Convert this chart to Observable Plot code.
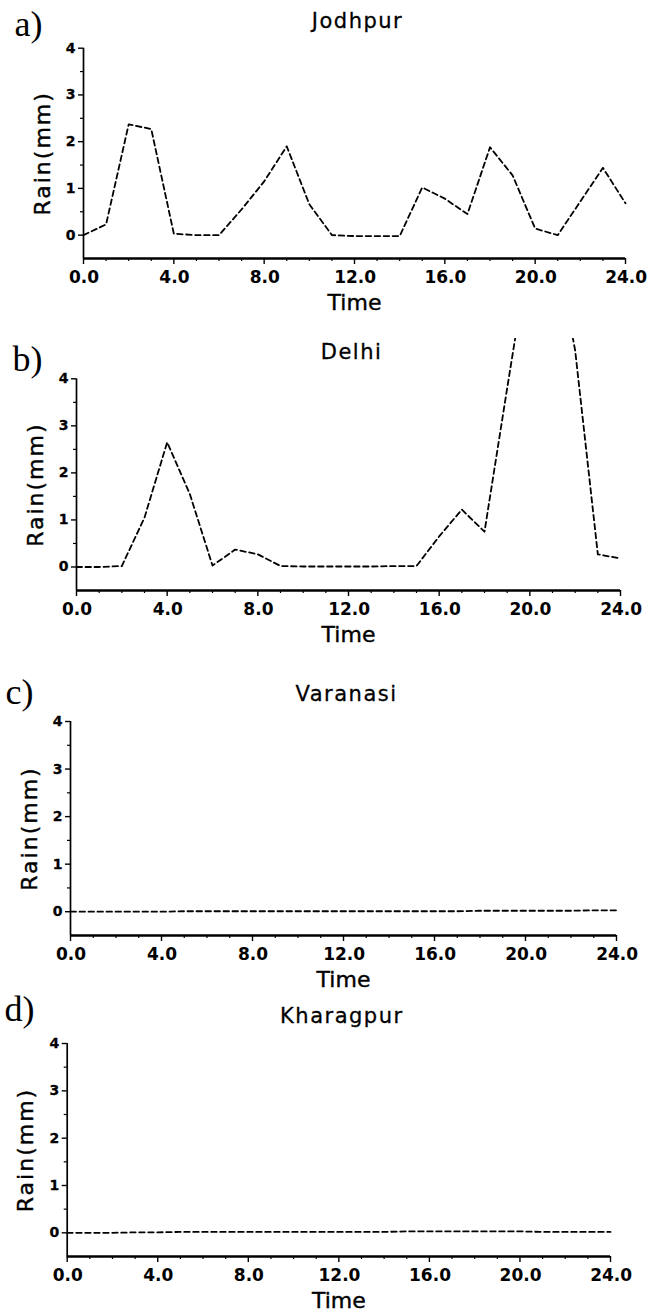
<!DOCTYPE html>
<html>
<head>
<meta charset="utf-8">
<script src="https://cdn.jsdelivr.net/npm/d3@7"></script>
<script src="https://cdn.jsdelivr.net/npm/@observablehq/plot@0.6"></script>
<style>
  body { margin: 0; background: #fff; color: #000; }
  #wrap { position: relative; width: 648px; height: 1312px; overflow: hidden; background: #fff; }
  .panel { position: absolute; left: 0; width: 648px; overflow: visible; }
  .panel.clip { overflow: hidden; }
  .panel svg { display: block; background: transparent; }
</style>
</head>
<body>
<div id="wrap"></div>
<script>
// ---- data ----
const hours = [0, 1, 2, 3, 4, 5, 6, 7, 8, 9, 10, 11, 12, 13, 14, 15, 16, 17, 18, 19, 20, 21, 22, 23, 24];
const jodhpur = [0.0, 0.23, 2.37, 2.27, 0.03, 0.0, 0.0, 0.55, 1.15, 1.9, 0.66, 0.0, -0.02, -0.02, -0.02, 1.02, 0.78, 0.45, 1.88, 1.28, 0.14, 0.0, 0.72, 1.44, 0.68];
const delhi = [0.0, 0.0, 0.02, 1.05, 2.65, 1.55, 0.03, 0.37, 0.27, 0.02, 0.01, 0.01, 0.01, 0.01, 0.02, 0.02, 0.65, 1.22, 0.75, 3.8, 6.8, 7.2, 4.6, 0.27, 0.18];
const varanasi = [0.0, 0.0, 0.0, 0.0, 0.0, 0.01, 0.01, 0.01, 0.01, 0.01, 0.01, 0.01, 0.01, 0.01, 0.01, 0.01, 0.01, 0.01, 0.02, 0.02, 0.02, 0.02, 0.02, 0.03, 0.03];
const kharagpur = [0.0, 0.0, 0.0, 0.01, 0.01, 0.02, 0.02, 0.02, 0.02, 0.02, 0.02, 0.02, 0.02, 0.02, 0.02, 0.03, 0.03, 0.03, 0.03, 0.03, 0.03, 0.02, 0.02, 0.02, 0.02];
const cities = ["Jodhpur", "Delhi", "Varanasi", "Kharagpur"];
const panelLetters = ["a)", "b)", "c)", "d)"];
const series = [jodhpur, delhi, varanasi, kharagpur];
const xTicks = [0, 4, 8, 12, 16, 20, 24];
const xMinorTicks = [1, 2, 3, 5, 6, 7, 9, 10, 11, 13, 14, 15, 17, 18, 19, 21, 22, 23];
const yTicks = [0, 1, 2, 3, 4];
const yMinorTicks = [0.5, 1.5, 2.5, 3.5];
const xTitle = "Time";
const yTitle = "Rain(mm)";
const yBottom = -0.5;
const yTop = 4;
const xStart = 0;
const xEnd = 24;

// ---- layout (absolute page pixels) ----
const layout = [
  { top: 0,   height: 330, x0: 83,   x24: 625, y4: 47.7,  yb: 258,  letterX: 14, letterY: 24,   clip: false },
  { top: 338, height: 318, x0: 76,   x24: 620, y4: 378.3, yb: 590,  letterX: 12, letterY: 359,  clip: true },
  { top: 656, height: 335, x0: 70,   x24: 616, y4: 721,   yb: 935,  letterX: 5,  letterY: 692,  clip: false },
  { top: 991, height: 321, x0: 66.7, x24: 610, y4: 1043,  yb: 1256, letterX: 4,  letterY: 1009, clip: false }
];
const spacing = { title: "1.5px", yTitle: "2px" };

const sans = "DejaVu Sans";
const wrap = document.getElementById("wrap");
const fmt = d3.format(".1f");

series.forEach((vals, i) => {
  const L = layout[i];
  const rows = hours.map((h, k) => ({ hour: h, rain: vals[k] }));
  const chart = Plot.plot({
    width: 648,
    height: L.height,
    marginLeft: L.x0,
    marginRight: 648 - L.x24,
    marginTop: L.y4 - L.top,
    marginBottom: L.top + L.height - L.yb,
    style: { fontFamily: sans, color: "#000", background: "transparent", overflow: "visible" },
    x: { domain: [xStart, xEnd], axis: null },
    y: { domain: [yBottom, yTop], axis: null },
    marks: [
      // data
      Plot.line(rows, { x: "hour", y: "rain", stroke: "#000", strokeWidth: 1.8, strokeDasharray: "5.5,3.5" }),
      // axis lines
      Plot.ruleX([xStart], { y1: yBottom, y2: yTop, stroke: "#000", strokeWidth: 1.7 }),
      Plot.ruleY([yBottom], { x1: xStart, x2: xEnd, stroke: "#000", strokeWidth: 2.5 }),
      // y ticks (pointing left)
      Plot.ruleY(yTicks, { y: d => d, x1: xStart, x2: xStart, insetLeft: -5, stroke: "#000", strokeWidth: 1.4 }),
      Plot.ruleY(yMinorTicks, { y: d => d, x1: xStart, x2: xStart, insetLeft: -3, stroke: "#000", strokeWidth: 1.2 }),
      Plot.text(yTicks, { y: d => d, text: d => String(d), frameAnchor: "left", dx: -8, textAnchor: "end", lineAnchor: "middle", fontSize: 14, fontWeight: "bold", fill: "#000", stroke: "#000", strokeWidth: 0.3 }),
      // x ticks (pointing down)
      Plot.ruleX(xTicks, { x: d => d, y1: yBottom, y2: yBottom, insetBottom: -6, stroke: "#000", strokeWidth: 1.4 }),
      Plot.ruleX(xMinorTicks, { x: d => d, y1: yBottom, y2: yBottom, insetBottom: -3, stroke: "#000", strokeWidth: 1.2 }),
      Plot.text(xTicks, { x: d => d, text: d => fmt(d), frameAnchor: "bottom", dy: 12, dx: 0.6, lineAnchor: "top", fontSize: 17, fontWeight: "bold", fill: "#000" }),
      // titles
      Plot.text([cities[i]], { frameAnchor: "top", dx: 3, dy: -27, lineAnchor: "middle", fontSize: 21, fill: "#000", stroke: "#000", strokeWidth: 0.3 }),
      Plot.text([xTitle], { frameAnchor: "bottom", dx: 0, dy: 44, lineAnchor: "middle", fontSize: 22, fill: "#000", stroke: "#000", strokeWidth: 0.4 }),
      Plot.text([yTitle], { frameAnchor: "left", dx: -41, rotate: -90, textAnchor: "middle", lineAnchor: "middle", fontSize: 22, fill: "#000", stroke: "#000", strokeWidth: 0.4 }),
      Plot.text([panelLetters[i]], { frameAnchor: "top-left", dx: L.letterX - L.x0, dy: L.letterY - L.y4, textAnchor: "start", lineAnchor: "middle", fontSize: 36, fontFamily: "Liberation Serif", fill: "#000" })
    ]
  });
  // letter spacing to approximate the wide geometric face of the original
  d3.select(chart).selectAll("text")
    .filter(function () { return this.textContent === cities[i]; })
    .attr("letter-spacing", spacing.title);
  d3.select(chart).selectAll("text")
    .filter(function () { return this.textContent === yTitle; })
    .attr("letter-spacing", spacing.yTitle);
  const div = document.createElement("div");
  div.className = L.clip ? "panel clip" : "panel";
  div.style.top = L.top + "px";
  div.style.height = L.height + "px";
  div.appendChild(chart);
  wrap.appendChild(div);
});
</script>
</body>
</html>
